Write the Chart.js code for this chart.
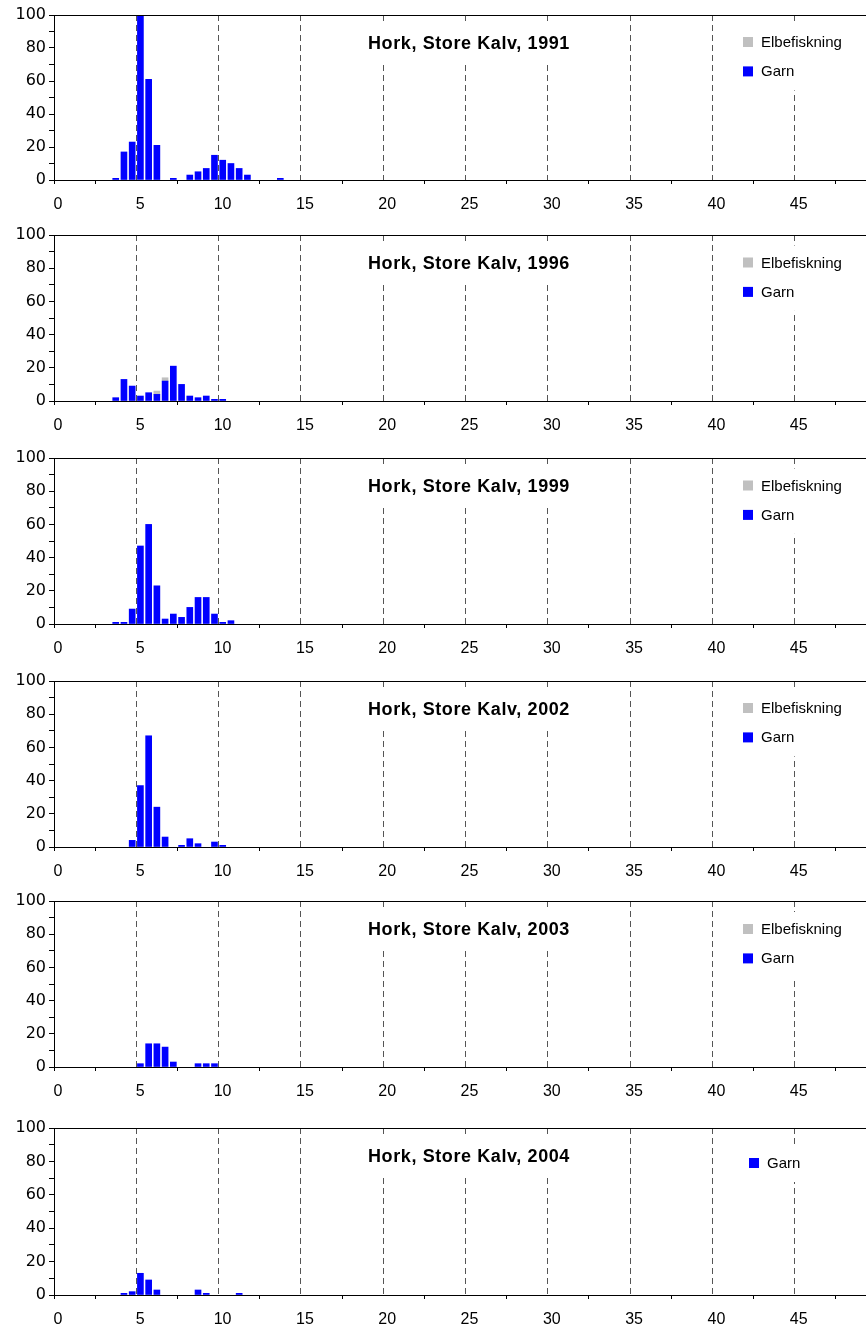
<!DOCTYPE html>
<html>
<head>
<meta charset="utf-8">
<title>Hork, Store Kalv</title>
<script src="https://cdn.jsdelivr.net/npm/chart.js@4.4.1/dist/chart.umd.min.js"></script>
<style>
  html, body { margin: 0; padding: 0; background: #fff; }
  body { position: relative; width: 866px; height: 1331px; overflow: hidden; }
  .panel { position: absolute; left: 0; }
</style>
</head>
<body>
<script>
// --- Længdefordeling, Hork i Store Kalv (antal pr. halv-cm klasse, klassemidte) ---
const years = [1991, 1996, 1999, 2002, 2003, 2004];

const bins1991 = [3.75, 4.25, 4.75, 5.25, 5.75, 6.25, 7.25, 8.25, 8.75, 9.25, 9.75, 10.25, 10.75, 11.25, 11.75, 13.75];
const garn1991 = [1, 17, 23, 100, 61, 21, 1, 3, 5, 7, 15, 12, 10, 7, 3, 1];

const bins1996 = [3.75, 4.25, 4.75, 5.25, 5.75, 6.25, 6.75, 7.25, 7.75, 8.25, 8.75, 9.25, 9.75, 10.25];
const garn1996 = [2, 13, 9, 3, 5, 4, 12, 21, 10, 3, 2, 3, 1, 1];
const elBins1996 = [6.25, 6.75];
const elbe1996 = [2, 2];

const bins1999 = [3.75, 4.25, 4.75, 5.25, 5.75, 6.25, 6.75, 7.25, 7.75, 8.25, 8.75, 9.25, 9.75, 10.25, 10.75];
const garn1999 = [1, 1, 9, 47, 60, 23, 3, 6, 4, 10, 16, 16, 6, 1, 2];

const bins2002 = [4.75, 5.25, 5.75, 6.25, 6.75, 7.75, 8.25, 8.75, 9.75, 10.25];
const garn2002 = [4, 37, 67, 24, 6, 1, 5, 2, 3, 1];

const bins2003 = [5.25, 5.75, 6.25, 6.75, 7.25, 8.75, 9.25, 9.75];
const garn2003 = [2, 14, 14, 12, 3, 2, 2, 2];

const bins2004 = [4.25, 4.75, 5.25, 5.75, 6.25, 8.75, 9.25, 11.25];
const garn2004 = [1, 2, 13, 9, 3, 3, 1, 1];

// serier pr. år (null = ingen elbefiskning i legenden)
const panelData = [
    { bins: bins1991, garn: garn1991, elBins: [], elbe: [] },
    { bins: bins1996, garn: garn1996, elBins: elBins1996, elbe: elbe1996 },
    { bins: bins1999, garn: garn1999, elBins: [], elbe: [] },
    { bins: bins2002, garn: garn2002, elBins: [], elbe: [] },
    { bins: bins2003, garn: garn2003, elBins: [], elbe: [] },
    { bins: bins2004, garn: garn2004, elBins: null, elbe: null }
];

// --- Layout ---
const panelTops = [0, 220, 443, 666, 886, 1113];
const plotHeights = [165, 166, 166, 166, 166, 167];
const legendPos = [
    { x: 743, y: 22 }, { x: 743, y: 22.5 }, { x: 743, y: 22.5 },
    { x: 743, y: 22 }, { x: 743, y: 23 }, { x: 749, y: 30 }
];
// x-aksens tick-padding reserveres også til højre, så lærredet er bredere end siden
const CANVAS_W = 888;
const PAD_TOP = 15;
const X_AXIS_H = 41;

const FONT = '"Liberation Sans", Arial, Helvetica, sans-serif';
const isStep = (v, s) => Math.abs(v / s - Math.round(v / s)) < 1e-6;

// tegner ramme øverst, titel og legende inde i plotområdet
const panelDecor = {
    id: 'panelDecor',
    afterDraw(chart, args, opts) {
        const { ctx, chartArea: a } = chart;
        ctx.save();

        ctx.strokeStyle = '#000';
        ctx.lineWidth = 1;
        ctx.beginPath();
        ctx.moveTo(a.left, Math.round(a.top) + 0.5);
        ctx.lineTo(a.right, Math.round(a.top) + 0.5);
        ctx.stroke();

        // titel
        ctx.font = `bold 18px ${FONT}`;
        ctx.letterSpacing = '0.6px';
        const tw = ctx.measureText(opts.title).width;
        ctx.fillStyle = '#fff';
        ctx.fillRect(opts.titleX - tw / 2 - 6, a.top + 9, tw + 12, 37);
        ctx.fillStyle = '#000';
        ctx.textAlign = 'center';
        ctx.textBaseline = 'alphabetic';
        ctx.fillText(opts.title, opts.titleX, a.top + 34);

        // legende, øverste serie først
        ctx.font = `15px ${FONT}`;
        ctx.letterSpacing = '0px';
        const items = chart.data.datasets.slice().reverse();
        const lx = opts.legend.x;
        const ly = a.top + opts.legend.y;
        const rowH = 29.4;
        const textW = Math.max(...items.map(d => ctx.measureText(d.label).width));
        ctx.fillStyle = '#fff';
        ctx.fillRect(lx - 8, ly - 12, 18 + textW + 10, (items.length - 1) * rowH + 10 + 26);
        ctx.textAlign = 'left';
        items.forEach((d, i) => {
            const y = ly + i * rowH;
            ctx.fillStyle = d.backgroundColor;
            ctx.fillRect(lx, y, 10, 10);
            ctx.fillStyle = '#000';
            ctx.fillText(d.label, lx + 18, y + 10);
        });
        ctx.restore();
    }
};

function buildPanel(i) {
    const pd = panelData[i];
    const canvas = document.createElement('canvas');
    canvas.className = 'panel';
    canvas.width = CANVAS_W;
    canvas.height = PAD_TOP + plotHeights[i] + X_AXIS_H;
    canvas.style.top = panelTops[i] + 'px';
    document.body.appendChild(canvas);

    const datasets = [{
        label: 'Garn',
        data: pd.bins.map((b, k) => ({ x: b, y: pd.garn[k] })),
        backgroundColor: '#0000ff',
        barThickness: 6
    }];
    if (pd.elbe) {
        datasets.push({
            label: 'Elbefiskning',
            data: pd.elBins.map((b, k) => ({ x: b, y: pd.elbe[k] })),
            backgroundColor: '#c0c0c0',
            barThickness: 6
        });
    }

    return new Chart(canvas.getContext('2d'), {
        type: 'bar',
        data: { datasets },
        plugins: [panelDecor],
        options: {
            responsive: false,
            animation: false,
            events: [],
            layout: { padding: { top: PAD_TOP, right: 0, left: 0, bottom: 0 } },
            plugins: {
                legend: { display: false },
                tooltip: { enabled: false },
                panelDecor: {
                    title: `Hork, Store Kalv, ${years[i]}`,
                    titleX: 469,
                    legend: legendPos[i]
                }
            },
            scales: {
                x: {
                    type: 'linear',
                    min: 0,
                    max: 50,
                    offset: false,
                    stacked: true,
                    afterFit: s => { s.height = X_AXIS_H; },
                    ticks: {
                        stepSize: 2.5,
                        autoSkip: false,
                        maxRotation: 0,
                        padding: 11,
                        labelOffset: 4,
                        color: '#000',
                        font: { family: FONT, size: 16 },
                        callback: v => (isStep(v, 5) && v < 50 ? v : '')
                    },
                    grid: {
                        offset: false,
                        lineWidth: 1,
                        color: c => (c.tick && isStep(c.tick.value, 5) && c.tick.value > 0 ? '#555' : 'rgba(0,0,0,0)'),
                        tickLength: 4,
                        tickColor: c => (c.tick && isStep(c.tick.value, 5) && c.tick.value > 0 ? 'rgba(0,0,0,0)' : '#000')
                    },
                    border: { color: '#000', width: 1, dash: [6, 4] }
                },
                y: {
                    min: 0,
                    max: 100,
                    stacked: true,
                    afterFit: s => { s.width = 54; },
                    ticks: {
                        stepSize: 10,
                        autoSkip: false,
                        padding: 3,
                        color: '#000',
                        font: { family: '"DejaVu Sans", sans-serif', size: 16 },
                        callback: v => (isStep(v, 20) ? v : '')
                    },
                    grid: { drawOnChartArea: false, tickLength: 5, tickColor: '#000' },
                    border: { color: '#000', width: 1 }
                }
            }
        }
    });
}

years.forEach((y, i) => buildPanel(i));
</script>
</body>
</html>
